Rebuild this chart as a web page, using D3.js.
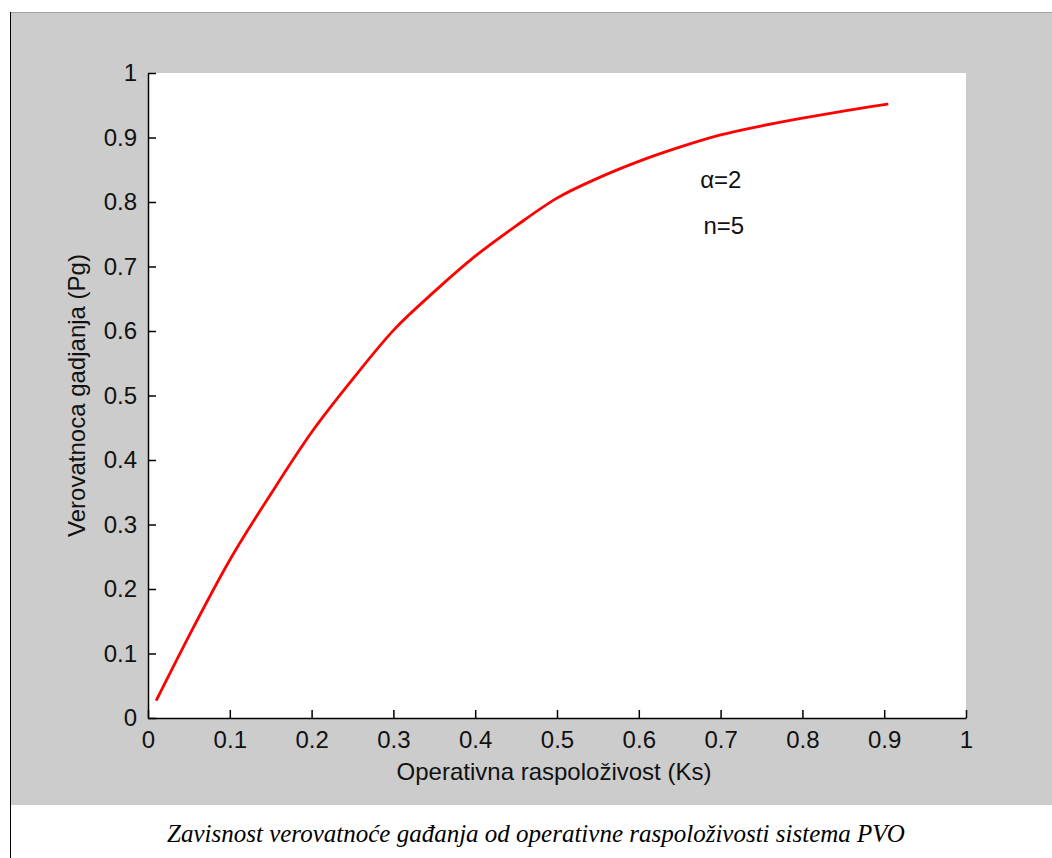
<!DOCTYPE html>
<html>
<head>
<meta charset="utf-8">
<script src="https://cdn.jsdelivr.net/npm/d3@7"></script>
<style>
  body { margin: 0; background: white; }
  text { font-family: "Liberation Sans", Arial, sans-serif; }
</style>
</head>
<body>
<div id="chart"></div>
<script>
// Ks values and Pg
const ks = [0.01, 0.05, 0.1, 0.15, 0.2, 0.25, 0.3, 0.35, 0.4, 0.45, 0.5,
            0.55, 0.6, 0.65, 0.7, 0.75, 0.8, 0.85, 0.9, 0.905];
const pg = [0.027, 0.127, 0.245, 0.347, 0.443, 0.525, 0.601, 0.661, 0.716, 0.763, 0.806,
            0.837, 0.863, 0.885, 0.904, 0.918, 0.930, 0.941, 0.951, 0.952];
const xTicks = [0, 0.1, 0.2, 0.3, 0.4, 0.5, 0.6, 0.7, 0.8, 0.9, 1];
const yTicks = [0, 0.1, 0.2, 0.3, 0.4, 0.5, 0.6, 0.7, 0.8, 0.9, 1];

const w = 1052;
const h = 858;
const padLeft = 148, padRight = 966, padTop = 73, padBottom = 718;

const svg = d3.select("#chart").append("svg")
  .attr("width", w)
  .attr("height", h)
  .style("display", "block");

// grey figure panel
svg.append("rect")
  .attr("x", 10).attr("y", 12)
  .attr("width", w - 10).attr("height", 805 - 12)
  .attr("fill", "#cccccc");
svg.append("line")
  .attr("x1", 10).attr("x2", w)
  .attr("y1", 12.5).attr("y2", 12.5)
  .attr("stroke", "#a0a0a0");
svg.append("line")
  .attr("x1", 10.5).attr("x2", 10.5)
  .attr("y1", 12).attr("y2", h)
  .attr("stroke", "#000");

// white axes area
svg.append("rect")
  .attr("x", padLeft).attr("y", padTop)
  .attr("width", padRight - padLeft).attr("height", padBottom - padTop)
  .attr("fill", "white");

const xScale = d3.scaleLinear().domain([0, 1]).range([padLeft, padRight]);
const yScale = d3.scaleLinear().domain([0, 1]).range([padBottom, padTop]);

const xAxis = d3.axisBottom(xScale)
  .tickValues(xTicks)
  .tickFormat(d => d3.format("")(d))
  .tickSizeInner(-8)
  .tickSizeOuter(0)
  .tickPadding(13);
const yAxis = d3.axisLeft(yScale)
  .tickValues(yTicks)
  .tickFormat(d => d3.format("")(d))
  .tickSizeInner(-8)
  .tickSizeOuter(0)
  .tickPadding(11);

const gx = svg.append("g")
  .attr("transform", "translate(0," + padBottom + ")")
  .call(xAxis);
const gy = svg.append("g")
  .attr("transform", "translate(" + padLeft + ",0)")
  .call(yAxis);

[gx, gy].forEach(g => {
  g.select(".domain").attr("stroke", "#000").attr("stroke-width", 1.5);
  g.selectAll(".tick line").attr("stroke", "#000").attr("stroke-width", 1.5);
  g.selectAll(".tick text")
    .attr("fill", "#111")
    .style("font-size", "24px")
    .style("font-family", "'Liberation Sans', Arial, sans-serif");
});

// curve
const line = d3.line()
  .x((d, i) => xScale(ks[i]))
  .y(d => yScale(d))
  .curve(d3.curveMonotoneX);

svg.append("path")
  .datum(pg)
  .attr("d", line)
  .attr("fill", "none")
  .attr("stroke", "#ff0000")
  .attr("stroke-width", 2.8);

// annotations
svg.append("text")
  .attr("x", xScale(0.675))
  .attr("y", yScale(0.822))
  .text("α=2")
  .style("font-size", "24px")
  .attr("fill", "#111");
svg.append("text")
  .attr("x", xScale(0.679))
  .attr("y", yScale(0.751))
  .text("n=5")
  .style("font-size", "24px")
  .attr("fill", "#111");

// axis labels
svg.append("text")
  .attr("x", (padLeft + padRight) / 2 - 3)
  .attr("y", 780)
  .attr("text-anchor", "middle")
  .text("Operativna raspoloživost (Ks)")
  .style("font-size", "24px")
  .attr("fill", "#111");

svg.append("text")
  .attr("transform", "rotate(-90)")
  .attr("x", -(padTop + padBottom) / 2)
  .attr("y", 85)
  .attr("text-anchor", "middle")
  .text("Verovatnoca gadjanja (Pg)")
  .style("font-size", "24px")
  .attr("fill", "#111");

// caption
svg.append("text")
  .attr("x", 536)
  .attr("y", 842)
  .attr("text-anchor", "middle")
  .text("Zavisnost verovatnoće gađanja od operativne raspoloživosti sistema PVO")
  .style("font-family", "'Liberation Serif', 'Times New Roman', serif")
  .style("font-style", "italic")
  .style("font-size", "25px")
  .attr("fill", "#000");
</script>
</body>
</html>
